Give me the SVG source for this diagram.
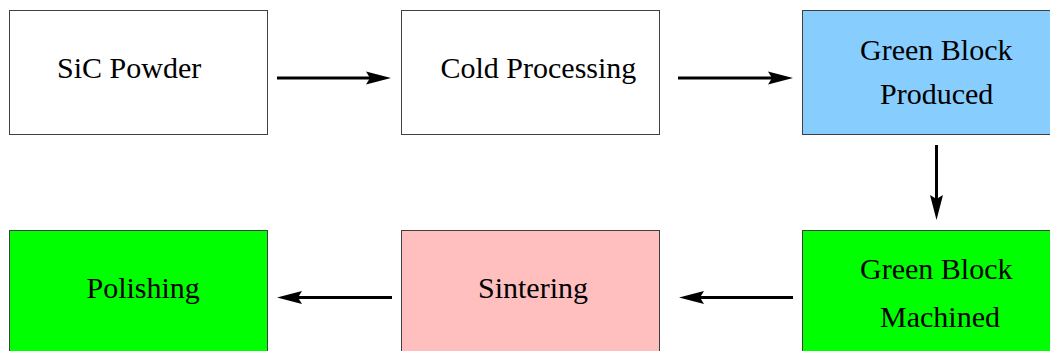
<svg xmlns="http://www.w3.org/2000/svg" width="1050" height="351" viewBox="0 0 1050 351">
<style>
.box{stroke:#404040;stroke-width:1}
text{font-family:'Liberation Serif','Times New Roman',serif;font-size:30px;fill:#000}
.c{stroke:#000;stroke-width:3;fill:none;marker-end:url(#ah)}
</style>
<defs>
<marker id="ah" markerUnits="userSpaceOnUse" viewBox="0 0 26 14" markerWidth="26" markerHeight="14" refX="5" refY="7" orient="auto" overflow="visible">
<path d="M0,0.5 L25,7 L0,13.5 L4,7 Z" fill="#000"/>
</marker>
</defs>
<rect width="1050" height="351" fill="#fff"/>
<g id="sic-powder">
<rect class="box" x="9.5" y="10.5" width="258" height="124" fill="#fff"/>
<text x="57" y="78">SiC Powder</text>
</g>
<g id="cold-processing">
<rect class="box" x="401.5" y="10.5" width="258" height="124" fill="#fff"/>
<text x="440.5" y="78">Cold Processing</text>
</g>
<g id="green-block-produced">
<rect class="box" x="802.5" y="10.5" width="260" height="124" fill="#87ceff"/>
<text x="860" y="59.5">Green Block</text>
<text x="880" y="104">Produced</text>
</g>
<g id="polishing">
<rect class="box" x="9.5" y="230.5" width="258" height="130" fill="#00ff00"/>
<text x="86.5" y="297.5">Polishing</text>
</g>
<g id="sintering">
<rect class="box" x="401.5" y="230.5" width="258" height="130" fill="#ffbfbf"/>
<text x="478" y="298">Sintering</text>
</g>
<g id="green-block-machined">
<rect class="box" x="802.5" y="230.5" width="260" height="130" fill="#00ff00"/>
<text x="860" y="278.5">Green Block</text>
<text x="880" y="326.5">Machined</text>
</g>
<g id="connectors">
<line class="c" x1="277" y1="78" x2="371" y2="78"/>
<line class="c" x1="678" y1="78" x2="773" y2="78"/>
<line class="c" x1="936.5" y1="145" x2="936.5" y2="200"/>
<line class="c" x1="793" y1="297.5" x2="699" y2="297.5"/>
<line class="c" x1="392" y1="297.5" x2="297" y2="297.5"/>
</g>
</svg>
